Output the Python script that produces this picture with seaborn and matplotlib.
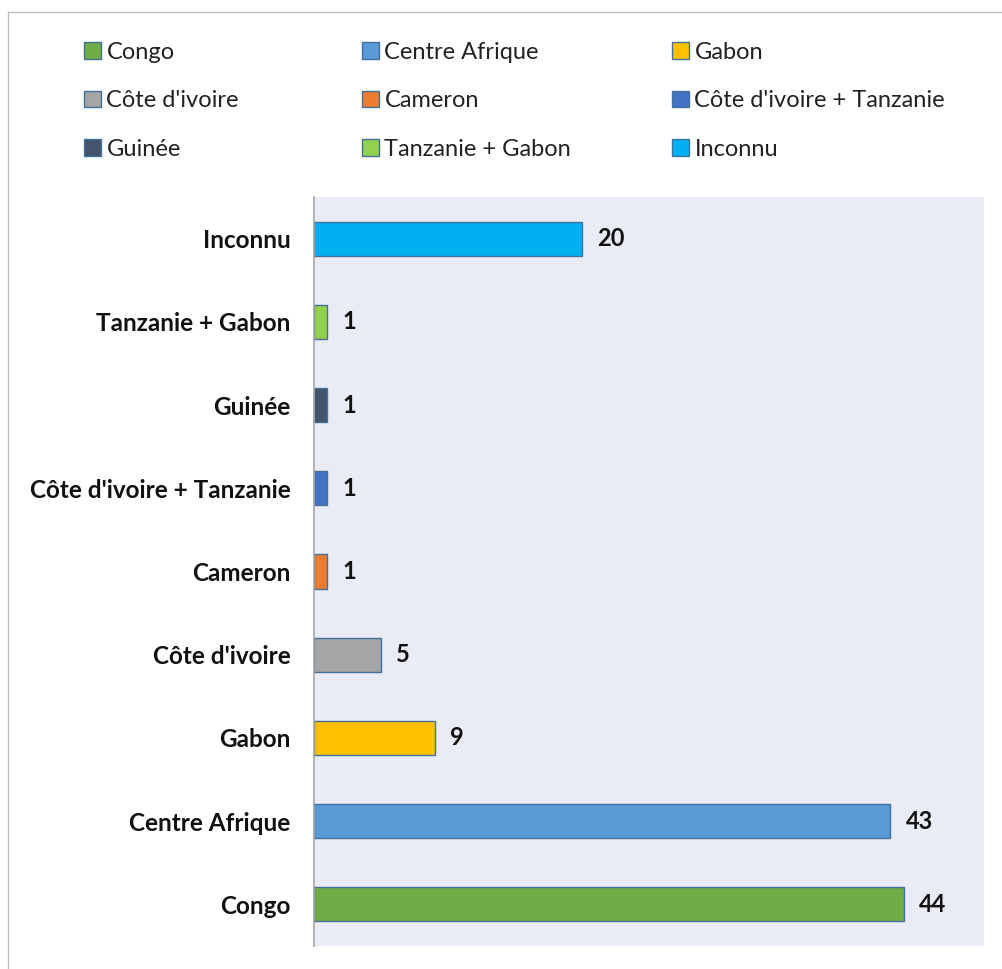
import matplotlib
matplotlib.use("Agg")
import matplotlib.pyplot as plt
import matplotlib.patches as mpatches
from matplotlib.lines import Line2D
import seaborn as sns
import pandas as pd

# data (bottom to top in the picture)
pays = ["Congo", "Centre Afrique", "Gabon", "Côte d'ivoire", "Cameron",
        "Côte d'ivoire + Tanzanie", "Guinée", "Tanzanie + Gabon", "Inconnu"]
nombre = [44, 43, 9, 5, 1, 1, 1, 1, 20]
couleurs = ["#70AD47", "#5B9BD5", "#FFC000", "#A5A5A5", "#ED7D31",
            "#4472C4", "#44546A", "#92D050", "#00B0F0"]

df = pd.DataFrame({"pays": pays, "nombre": nombre})
# top of chart first for seaborn's categorical axis
ordre = pays[::-1]

sns.set_theme(style="white")
plt.rcParams['font.family'] = ['Lato', 'DejaVu Sans']

fig = plt.figure(figsize=(10.03, 9.69), dpi=100)
ax = fig.add_axes([314 / 1003, 1 - 946 / 969, (984 - 314) / 1003, (946 - 197) / 969])
ax.set_facecolor("#E9EBF5")

sns.barplot(data=df, y="pays", x="nombre", hue="pays", order=ordre,
            palette=dict(zip(pays, couleurs)), saturation=1, orient="h", width=0.41,
            edgecolor="#41719C", linewidth=1, legend=False, ax=ax)

for cont in ax.containers:
    ax.bar_label(cont, padding=11, fontsize=17, fontweight="bold", color="#111111")

ax.set_xlim(0, 50)
ax.set_ylim(8.5, -0.5)
ax.set_xlabel("")
ax.set_ylabel("")
ax.set_xticks([])
ax.tick_params(axis="y", length=0, pad=17)
for lab in ax.get_yticklabels():
    lab.set_fontweight("bold")
    lab.set_fontsize(17.5)
    lab.set_color("#111111")
for s in ["top", "right", "bottom"]:
    ax.spines[s].set_visible(False)
ax.spines["left"].set_color("#A6A6A6")
ax.spines["left"].set_linewidth(1.2)

# legend: filled row by row, one legend per column
ncol = 3
col_x = [84, 362, 672]
handles = [mpatches.Patch(facecolor=c, edgecolor="#41719C", linewidth=1) for c in couleurs]
for c in range(ncol):
    idx = [r * ncol + c for r in range(3)]
    fig.legend([handles[i] for i in idx], [pays[i] for i in idx], ncol=1,
               loc="upper left", bbox_to_anchor=(col_x[c] / 1003, 1 - 42 / 969),
               frameon=False, fontsize=17, handlelength=0.7, handleheight=0.7,
               handletextpad=0.25, labelspacing=1.16, borderpad=0, borderaxespad=0,
               labelcolor="#222222")

# outer chart frame
fig.add_artist(Line2D([8 / 1003, 8 / 1003], [0, 1 - 12 / 969], color="#BFBFBF", lw=1))
fig.add_artist(Line2D([8 / 1003, 1], [1 - 12 / 969, 1 - 12 / 969], color="#BFBFBF", lw=1))

fig.savefig("out.png", dpi=100)
